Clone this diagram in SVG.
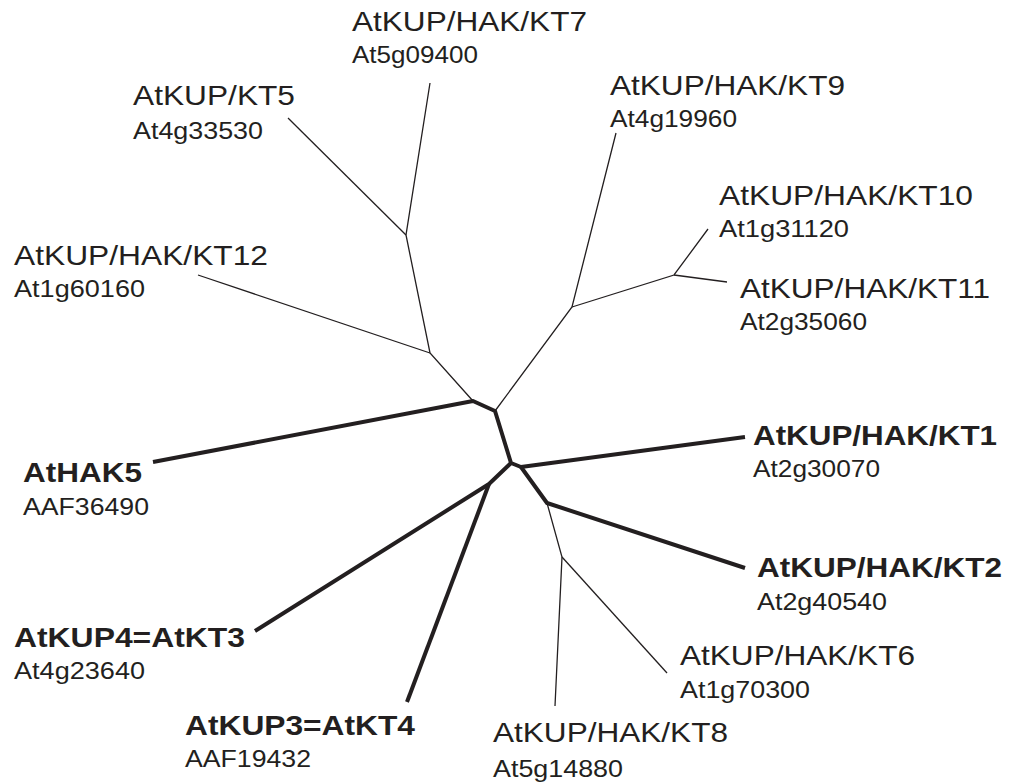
<svg xmlns="http://www.w3.org/2000/svg" width="1010" height="783" viewBox="0 0 1010 783">
<style>
.t{font-family:"Liberation Sans",Arial,sans-serif;font-size:28.5px;fill:#231f20}
.b{font-weight:bold}
.s{font-family:"Liberation Sans",Arial,sans-serif;font-size:24px;fill:#231f20}
.thin{fill:none;stroke:#231f20;stroke-width:1.3}
.thick{fill:none;stroke:#231f20;stroke-width:4;stroke-linejoin:round}
</style>
<rect width="1010" height="783" fill="#fff"/>
<g id="connectors">
<polyline class="thin" points="430,83 406,235 430,353 473,401"/>
<line class="thin" x1="288" y1="118" x2="406" y2="235"/>
<line class="thin" x1="198" y1="275" x2="430" y2="353"/>
<polyline class="thin" points="616,133 572,307 495,411"/>
<polyline class="thin" points="572,307 674,275 708,229"/>
<line class="thin" x1="674" y1="275" x2="727" y2="282"/>
<polyline class="thin" points="547,503 562,557 555,706"/>
<line class="thin" x1="562" y1="557" x2="667" y2="673"/>
<polyline class="thick" points="153,462 473,401 495,411 511,463 521,467 745,437"/>
<polyline class="thick" points="521,467 547,503 745,568"/>
<polyline class="thick" points="511,463 489,484 255,631"/>
<line class="thick" x1="489" y1="484" x2="407" y2="702"/>
</g>
<g id="KT7"><text class="t" x="352" y="31" textLength="235" lengthAdjust="spacingAndGlyphs">AtKUP/HAK/KT7</text><text class="s" x="352" y="63" textLength="126" lengthAdjust="spacingAndGlyphs">At5g09400</text></g>
<g id="KT5"><text class="t" x="133" y="105" textLength="162" lengthAdjust="spacingAndGlyphs">AtKUP/KT5</text><text class="s" x="133" y="139" textLength="130" lengthAdjust="spacingAndGlyphs">At4g33530</text></g>
<g id="KT9"><text class="t" x="610" y="95" textLength="235" lengthAdjust="spacingAndGlyphs">AtKUP/HAK/KT9</text><text class="s" x="610" y="127" textLength="127" lengthAdjust="spacingAndGlyphs">At4g19960</text></g>
<g id="KT10"><text class="t" x="719" y="205" textLength="254" lengthAdjust="spacingAndGlyphs">AtKUP/HAK/KT10</text><text class="s" x="719" y="237" textLength="130" lengthAdjust="spacingAndGlyphs">At1g31120</text></g>
<g id="KT11"><text class="t" x="740" y="298" textLength="250" lengthAdjust="spacingAndGlyphs">AtKUP/HAK/KT11</text><text class="s" x="740" y="330" textLength="127" lengthAdjust="spacingAndGlyphs">At2g35060</text></g>
<g id="KT12"><text class="t" x="14" y="265" textLength="254" lengthAdjust="spacingAndGlyphs">AtKUP/HAK/KT12</text><text class="s" x="14" y="297" textLength="131" lengthAdjust="spacingAndGlyphs">At1g60160</text></g>
<g id="HAK5"><text class="t b" x="23" y="482" textLength="119" lengthAdjust="spacingAndGlyphs">AtHAK5</text><text class="s" x="23" y="515" textLength="126" lengthAdjust="spacingAndGlyphs">AAF36490</text></g>
<g id="KT1"><text class="t b" x="753" y="445" textLength="244" lengthAdjust="spacingAndGlyphs">AtKUP/HAK/KT1</text><text class="s" x="753" y="477" textLength="127" lengthAdjust="spacingAndGlyphs">At2g30070</text></g>
<g id="KT2"><text class="t b" x="757" y="577" textLength="245" lengthAdjust="spacingAndGlyphs">AtKUP/HAK/KT2</text><text class="s" x="757" y="610" textLength="130" lengthAdjust="spacingAndGlyphs">At2g40540</text></g>
<g id="KUP4"><text class="t b" x="14" y="647" textLength="231" lengthAdjust="spacingAndGlyphs">AtKUP4=AtKT3</text><text class="s" x="14" y="679" textLength="131" lengthAdjust="spacingAndGlyphs">At4g23640</text></g>
<g id="KUP3"><text class="t b" x="185" y="735" textLength="230" lengthAdjust="spacingAndGlyphs">AtKUP3=AtKT4</text><text class="s" x="185" y="767" textLength="126" lengthAdjust="spacingAndGlyphs">AAF19432</text></g>
<g id="KT6"><text class="t" x="680" y="665" textLength="235" lengthAdjust="spacingAndGlyphs">AtKUP/HAK/KT6</text><text class="s" x="680" y="698" textLength="130" lengthAdjust="spacingAndGlyphs">At1g70300</text></g>
<g id="KT8"><text class="t" x="493" y="742" textLength="235" lengthAdjust="spacingAndGlyphs">AtKUP/HAK/KT8</text><text class="s" x="493" y="777" textLength="130" lengthAdjust="spacingAndGlyphs">At5g14880</text></g>
</svg>
